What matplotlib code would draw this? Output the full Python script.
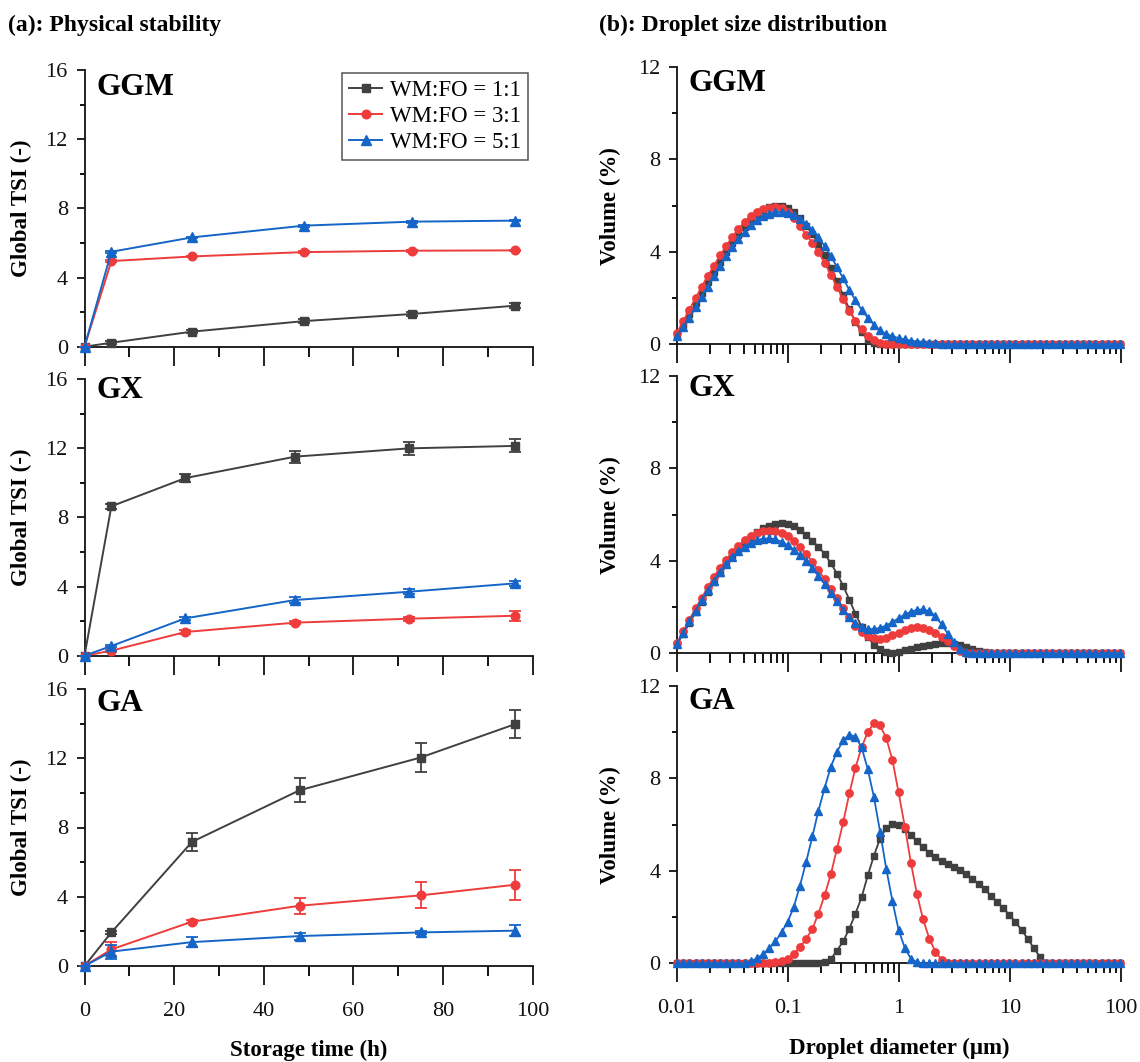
import matplotlib
matplotlib.use('Agg')
import matplotlib.pyplot as plt
from matplotlib.ticker import MultipleLocator, FixedLocator, FixedFormatter, NullFormatter

plt.rcParams['font.family'] = ['Liberation Serif', 'DejaVu Serif']

# ---------------- data: (a) physical stability ----------------
series_labels = ['WM:FO = 1:1', 'WM:FO = 3:1', 'WM:FO = 5:1']
panel_names = ['GGM', 'GX', 'GA']

time_ggm = [0, 6, 24, 49, 73, 96]
time_gx = [0, 6, 22.5, 47, 72.5, 96]
time_ga = [0, 6, 24, 48, 75, 96]

tsi_ggm_11 = [0, 0.23, 0.87, 1.48, 1.89, 2.37]
tsi_ggm_31 = [0, 4.95, 5.22, 5.47, 5.55, 5.57]
tsi_ggm_51 = [0, 5.49, 6.32, 7.00, 7.23, 7.29]
err_ggm_11 = [0, 0.08, 0.1, 0.12, 0.12, 0.15]
err_ggm_31 = [0, 0.05, 0.05, 0.05, 0.05, 0.05]
err_ggm_51 = [0, 0.05, 0.05, 0.05, 0.05, 0.05]

tsi_gx_11 = [0, 8.64, 10.27, 11.51, 11.99, 12.13]
tsi_gx_31 = [0, 0.29, 1.37, 1.91, 2.14, 2.31]
tsi_gx_51 = [0, 0.56, 2.16, 3.22, 3.70, 4.18]
err_gx_11 = [0, 0.15, 0.25, 0.35, 0.38, 0.38]
err_gx_31 = [0, 0.05, 0.1, 0.1, 0.12, 0.3]
err_gx_51 = [0, 0.05, 0.1, 0.15, 0.15, 0.15]

tsi_ga_11 = [0, 1.94, 7.17, 10.15, 12.04, 13.96]
tsi_ga_31 = [0, 0.96, 2.56, 3.48, 4.08, 4.69]
tsi_ga_51 = [0, 0.83, 1.38, 1.73, 1.94, 2.04]
err_ga_11 = [0, 0.1, 0.52, 0.70, 0.85, 0.80]
err_ga_31 = [0, 0.4, 0.1, 0.45, 0.75, 0.85]
err_ga_51 = [0, 0.4, 0.3, 0.2, 0.1, 0.3]

# ---------------- data: (b) droplet size distribution ----------------
diameter = [0.0100, 0.0114, 0.0129, 0.0147, 0.0167, 0.0189, 0.0215, 0.0244, 0.0278, 0.0315,
            0.0358, 0.0407, 0.0463, 0.0526, 0.0597, 0.0679, 0.0771, 0.0876, 0.0995, 0.113,
            0.128, 0.146, 0.166, 0.188, 0.214, 0.243, 0.276, 0.314, 0.357, 0.405,
            0.460, 0.523, 0.594, 0.675, 0.767, 0.872, 0.991, 1.13, 1.28, 1.45,
            1.65, 1.88, 2.13, 2.42, 2.75, 3.12, 3.55, 4.03, 4.58, 5.21,
            5.92, 6.72, 7.64, 8.68, 9.86, 11.2, 12.7, 14.5, 16.4, 18.7,
            21.2, 24.1, 27.4, 31.1, 35.3, 40.1, 45.6, 51.8, 58.9, 66.9,
            76.0, 86.4, 98.1]

vol_ggm_11 = [0.42, 0.85, 1.30, 1.78, 2.24, 2.70, 3.15, 3.58, 3.98, 4.38,
              4.74, 5.08, 5.38, 5.62, 5.80, 5.92, 5.97, 5.97, 5.90, 5.72,
              5.46, 5.14, 4.76, 4.34, 3.86, 3.32, 2.74, 2.12, 1.52, 0.98,
              0.52, 0.20, 0.05, 0.01, 0, 0, 0, 0, 0, 0,
              0, 0, 0, 0, 0, 0, 0, 0, 0, 0,
              0, 0, 0, 0, 0, 0, 0, 0, 0, 0,
              0, 0, 0, 0, 0, 0, 0, 0, 0, 0,
              0, 0, 0]
vol_ggm_31 = [0.50, 1.00, 1.50, 2.00, 2.50, 2.95, 3.40, 3.85, 4.25, 4.65,
              5.00, 5.30, 5.55, 5.72, 5.84, 5.90, 5.92, 5.88, 5.72, 5.45,
              5.10, 4.75, 4.38, 3.98, 3.52, 3.02, 2.48, 1.95, 1.45, 1.00,
              0.65, 0.38, 0.18, 0.07, 0.02, 0, 0, 0, 0, 0,
              0, 0, 0, 0, 0, 0, 0, 0, 0, 0,
              0, 0, 0, 0, 0, 0, 0, 0, 0, 0,
              0, 0, 0, 0, 0, 0, 0, 0, 0, 0,
              0, 0, 0]
vol_ggm_51 = [0.35, 0.75, 1.15, 1.60, 2.05, 2.50, 2.95, 3.40, 3.80, 4.20,
              4.55, 4.88, 5.16, 5.38, 5.55, 5.66, 5.72, 5.73, 5.70, 5.60,
              5.44, 5.22, 4.95, 4.63, 4.25, 3.82, 3.35, 2.85, 2.35, 1.90,
              1.50, 1.15, 0.85, 0.60, 0.45, 0.35, 0.27, 0.21, 0.16, 0.12,
              0.09, 0.06, 0.04, 0.02, 0, 0, 0, 0, 0, 0,
              0, 0, 0, 0, 0, 0, 0, 0, 0, 0,
              0, 0, 0, 0, 0, 0, 0, 0, 0, 0,
              0, 0, 0]

vol_gx_11 = [0.40, 0.85, 1.30, 1.78, 2.22, 2.65, 3.07, 3.48, 3.85, 4.20,
             4.52, 4.80, 5.05, 5.25, 5.42, 5.53, 5.60, 5.62, 5.60, 5.50,
             5.35, 5.12, 4.85, 4.62, 4.30, 3.90, 3.45, 2.92, 2.32, 1.72,
             1.15, 0.70, 0.38, 0.17, 0.04, 0.02, 0.07, 0.13, 0.20, 0.27,
             0.33, 0.38, 0.42, 0.44, 0.44, 0.41, 0.35, 0.27, 0.18, 0.10,
             0.05, 0.02, 0, 0, 0, 0, 0, 0, 0, 0,
             0, 0, 0, 0, 0, 0, 0, 0, 0, 0,
             0, 0, 0]
vol_gx_31 = [0.45, 0.95, 1.45, 1.95, 2.40, 2.85, 3.30, 3.70, 4.05, 4.40,
             4.65, 4.90, 5.08, 5.20, 5.28, 5.30, 5.28, 5.20, 5.06, 4.85,
             4.60, 4.30, 3.95, 3.60, 3.20, 2.80, 2.38, 1.95, 1.55, 1.20,
             0.92, 0.75, 0.65, 0.63, 0.68, 0.78, 0.90, 1.02, 1.10, 1.13,
             1.10, 1.00, 0.88, 0.72, 0.52, 0.32, 0.12, 0.03, 0, 0,
             0, 0, 0, 0, 0, 0, 0, 0, 0, 0,
             0, 0, 0, 0, 0, 0, 0, 0, 0, 0,
             0, 0, 0]
vol_gx_51 = [0.42, 0.90, 1.38, 1.85, 2.30, 2.72, 3.12, 3.50, 3.85, 4.15,
             4.42, 4.62, 4.78, 4.90, 4.96, 4.97, 4.93, 4.83, 4.68, 4.48,
             4.25, 3.98, 3.68, 3.35, 3.00, 2.62, 2.25, 1.88, 1.55, 1.30,
             1.12, 1.05, 1.05, 1.10, 1.20, 1.35, 1.52, 1.68, 1.80, 1.88,
             1.90, 1.82, 1.60, 1.25, 0.85, 0.48, 0.20, 0.05, 0, 0,
             0, 0, 0, 0, 0, 0, 0, 0, 0, 0,
             0, 0, 0, 0, 0, 0, 0, 0, 0, 0,
             0, 0, 0]

vol_ga_11 = [0, 0, 0, 0, 0, 0, 0, 0, 0, 0,
             0, 0, 0, 0, 0, 0, 0, 0, 0, 0,
             0, 0, 0.01, 0.02, 0.05, 0.18, 0.55, 0.95, 1.50, 2.15,
             2.85, 3.80, 4.65, 5.40, 5.85, 6.02, 6.00, 5.80, 5.55, 5.28,
             5.02, 4.78, 4.58, 4.42, 4.29, 4.15, 4.02, 3.85, 3.65, 3.45,
             3.20, 2.92, 2.65, 2.38, 2.10, 1.78, 1.45, 1.05, 0.65, 0.27,
             0.02, 0, 0, 0, 0, 0, 0, 0, 0, 0,
             0, 0, 0]
vol_ga_31 = [0, 0, 0, 0, 0, 0, 0, 0, 0, 0,
             0, 0, 0, 0, 0, 0.02, 0.05, 0.10, 0.18, 0.40,
             0.70, 1.05, 1.50, 2.15, 2.95, 3.85, 4.95, 6.10, 7.35, 8.45,
             9.35, 10.00, 10.40, 10.30, 9.75, 8.80, 7.40, 5.90, 4.35, 3.00,
             1.90, 1.05, 0.50, 0.16, 0.03, 0, 0, 0, 0, 0,
             0, 0, 0, 0, 0, 0, 0, 0, 0, 0,
             0, 0, 0, 0, 0, 0, 0, 0, 0, 0,
             0, 0, 0]
vol_ga_51 = [0, 0, 0, 0, 0, 0, 0, 0, 0, 0,
             0, 0, 0.08, 0.22, 0.40, 0.65, 0.95, 1.35, 1.80, 2.45,
             3.35, 4.40, 5.50, 6.60, 7.60, 8.50, 9.15, 9.65, 9.90, 9.80,
             9.35, 8.40, 7.20, 5.70, 4.10, 2.70, 1.45, 0.65, 0.20, 0.04,
             0, 0, 0, 0, 0, 0, 0, 0, 0, 0,
             0, 0, 0, 0, 0, 0, 0, 0, 0, 0,
             0, 0, 0, 0, 0, 0, 0, 0, 0, 0,
             0, 0, 0]

# ---------------- styling ----------------
colors = ['#404040', '#ee3b3b', '#1565c8']
markers = ['s', 'o', '^']
msize_a = [5.6, 6.2, 6.8]
msize_b = [5.0, 5.3, 5.8]

W, H = 1140, 1062
fig = plt.figure(figsize=(W / 100, H / 100), dpi=100)

left_pos = [(84.5, 70, 346.7), (84.5, 379, 655.7), (84.5, 689, 966)]
right_pos = [(677, 67, 344.3), (677, 376, 653.3), (677, 686, 963.3)]
left_w = 448
right_w = 444

def frac_rect(x0, top, bottom, w):
    return [x0 / W, 1 - bottom / H, w / W, (bottom - top) / H]

def style_axes(ax):
    for s in ['top', 'right']:
        ax.spines[s].set_visible(False)
    for s in ['left', 'bottom']:
        ax.spines[s].set_linewidth(1.3)
        ax.spines[s].set_color('#111111')
    ax.tick_params(axis='x', which='major', direction='out', length=14, width=1.3,
                   labelsize=16, pad=12, colors='#111111')
    ax.tick_params(axis='x', which='minor', direction='out', length=7, width=1.3)
    ax.tick_params(axis='y', which='major', direction='out', length=6, width=1.3,
                   labelsize=16, pad=6, colors='#111111')
    ax.tick_params(axis='y', which='minor', direction='out', length=3.5, width=1.3)

time_sets = [time_ggm, time_gx, time_ga]
tsi_sets = [[tsi_ggm_11, tsi_ggm_31, tsi_ggm_51],
            [tsi_gx_11, tsi_gx_31, tsi_gx_51],
            [tsi_ga_11, tsi_ga_31, tsi_ga_51]]
err_sets = [[err_ggm_11, err_ggm_31, err_ggm_51],
            [err_gx_11, err_gx_31, err_gx_51],
            [err_ga_11, err_ga_31, err_ga_51]]
vol_sets = [[vol_ggm_11, vol_ggm_31, vol_ggm_51],
            [vol_gx_11, vol_gx_31, vol_gx_51],
            [vol_ga_11, vol_ga_31, vol_ga_51]]
name_y_left = [0.9375, 0.959, 0.949]
name_y_right = [0.94, 0.956, 0.943]

for r in range(3):
    # ---- left column ----
    x0, top, bottom = left_pos[r]
    ax = fig.add_axes(frac_rect(x0, top, bottom, left_w))
    style_axes(ax)
    handles = []
    for i in range(3):
        cont = ax.errorbar(time_sets[r], tsi_sets[r][i], yerr=err_sets[r][i],
                           color=colors[i], marker=markers[i], ms=msize_a[i], lw=1.4,
                           elinewidth=1.3, capsize=4, capthick=1.3,
                           label=series_labels[i], zorder=3 + i, clip_on=False)
        handles.append(cont[0])
    ax.set_xlim(0, 100)
    ax.set_ylim(0, 16)
    ax.xaxis.set_major_locator(MultipleLocator(20))
    ax.xaxis.set_minor_locator(MultipleLocator(10))
    ax.yaxis.set_major_locator(MultipleLocator(4))
    ax.yaxis.set_minor_locator(MultipleLocator(2))
    if r < 2:
        ax.tick_params(axis='x', labelbottom=False)
    else:
        ax.set_xlabel('Storage time (h)', fontsize=16.5, fontweight='bold')
        ax.xaxis.set_label_coords(0.5, -0.268)
    ax.set_ylabel('Global TSI (-)', fontsize=16.5, fontweight='bold')
    ax.yaxis.set_label_coords(-0.117, 0.5)
    ax.text(0.027, name_y_left[r], panel_names[r], transform=ax.transAxes,
            fontsize=22.5, fontweight='bold', ha='left', va='center')
    if r == 0:
        leg = ax.legend(handles, series_labels, loc='upper right',
                        bbox_to_anchor=(0.99, 0.988),
                        borderaxespad=0, fontsize=16.5, frameon=True, fancybox=False,
                        edgecolor='#555555', handlelength=1.45, handletextpad=0.35,
                        labelspacing=0.22, borderpad=0.3, framealpha=1)
        leg.get_frame().set_linewidth(1.1)

    # ---- right column ----
    x0, top, bottom = right_pos[r]
    bx = fig.add_axes(frac_rect(x0, top, bottom, right_w))
    style_axes(bx)
    for i in range(3):
        bx.plot(diameter, vol_sets[r][i], color=colors[i], marker=markers[i],
                ms=msize_b[i], lw=1.3, zorder=3 + i, clip_on=False)
    bx.set_xscale('log')
    bx.set_xlim(0.01, 100)
    bx.set_ylim(0, 12)
    bx.xaxis.set_major_locator(FixedLocator([0.01, 0.1, 1, 10, 100]))
    bx.xaxis.set_major_formatter(FixedFormatter(['0.01', '0.1', '1', '10', '100']))
    minors = [m * 10.0 ** e for e in range(-2, 2) for m in range(2, 10)]
    bx.xaxis.set_minor_locator(FixedLocator(minors))
    bx.xaxis.set_minor_formatter(NullFormatter())
    bx.yaxis.set_major_locator(MultipleLocator(4))
    bx.yaxis.set_minor_locator(MultipleLocator(2))
    if r < 2:
        bx.tick_params(axis='x', labelbottom=False)
    else:
        bx.set_xlabel('Droplet diameter (\u03bcm)', fontsize=16.5, fontweight='bold')
        bx.xaxis.set_label_coords(0.5, -0.268)
    bx.set_ylabel('Volume (%)', fontsize=16.5, fontweight='bold')
    bx.yaxis.set_label_coords(-0.126, 0.5)
    bx.text(0.025, name_y_right[r], panel_names[r], transform=bx.transAxes,
            fontsize=22.5, fontweight='bold', ha='left', va='center')

fig.text(8 / W, 1 - 25 / H, '(a): Physical stability', fontsize=17, fontweight='bold',
         ha='left', va='center')
fig.text(599 / W, 1 - 25 / H, '(b): Droplet size distribution', fontsize=17,
         fontweight='bold', ha='left', va='center')

fig.savefig('out.png', dpi=100, facecolor='white')
